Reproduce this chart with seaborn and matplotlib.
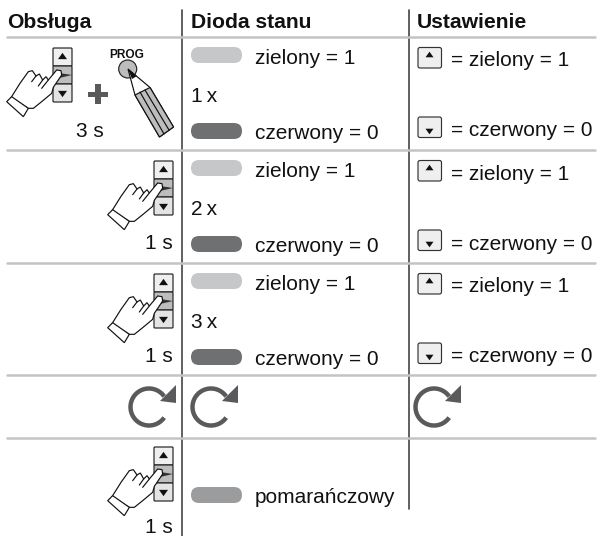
import numpy as np
import matplotlib
matplotlib.use("Agg")
import matplotlib.pyplot as plt
from matplotlib.patches import FancyBboxPatch, Polygon, Circle, Rectangle
import seaborn as sns

headers = ["Obsługa", "Dioda stanu", "Ustawienie"]
counts = ["1\u2009x", "2\u2009x", "3\u2009x"]
durations = ["3 s", "1 s", "1 s", "1 s"]
led_green = "zielony = 1"
led_red = "czerwony = 0"
led_orange = "pomarańczowy"
set_green = "= zielony = 1"
set_red = "= czerwony = 0"

W, H = 597, 536
rule_y = [36.5, 150, 263, 375, 438]
col_x = [182, 409]
row_dy = [0, 113, 226]

sns.set_theme(style="white")
plt.rcParams["font.family"] = ["Liberation Sans", "DejaVu Sans"]

fig = plt.figure(figsize=(W / 100, H / 100), dpi=100)
ax = fig.add_axes([0, 0, 1, 1])
FS = 15.05
DARK = "#5a5a5c"
EDGE = 0.85


def T(x, y, s, **kw):
    ax.text(x, y, s, fontsize=kw.pop("fs", FS), va="baseline", color="#111111", **kw)


def pill(y, c):
    ax.add_patch(FancyBboxPatch((191, y), 51, 16, boxstyle="round,pad=0,rounding_size=8",
                                lw=0, ec="none", fc=c, zorder=3))


def tri(cx, cy, up=True, s=4.5):
    d = -1 if up else 1
    ax.add_patch(Polygon([(cx - s, cy - d * s * 0.7), (cx + s, cy - d * s * 0.7), (cx, cy + d * s * 0.7)],
                         fc="#111111", ec="none", zorder=6))


def keypad(x, y):
    # three stacked keys, finger goes on top afterwards
    for yy, h, c in [(y, 18, "#efefef"), (y + 18, 18, "#bdbdbd"), (y + 36, 18, "#e4e4e4")]:
        ax.add_patch(FancyBboxPatch((x, yy), 19, h, boxstyle="round,pad=0,rounding_size=1",
                                    fc=c, ec="#222222", lw=EDGE, zorder=4))
    tri(x + 9.5, y + 8, True)
    tri(x + 9.5, y + 46, False)
    ax.add_patch(Polygon([(x + 6, y + 25), (x + 19, y + 27), (x + 6, y + 30)], fc="#333333", ec="none", zorder=5))


def hand(dx, dy):
    zoom_pts = [(33, 293), (60, 250), (85, 215), (97, 212), (108, 228), (118, 222), (128, 240), (138, 230),
                (145, 240), (170, 210), (183, 212), (185, 225), (160, 262), (155, 280), (125, 305), (100, 325),
                (85, 325)]
    pts = [(px / 3 + dx, py / 3 + dy) for px, py in zoom_pts]
    ax.add_patch(Polygon(pts, fc="white", ec="#111111", lw=EDGE, zorder=7))
    cuff = [(35, 290), (20, 305), (70, 350), (85, 325)]
    ax.add_patch(Polygon([(px / 3 + dx, py / 3 + dy) for px, py in cuff], fc="white", ec="#111111", lw=EDGE, zorder=7))
    for a, b in [((108, 228), (95, 245)), ((128, 240), (115, 258)), ((145, 240), (125, 265))]:
        ax.plot([a[0] / 3 + dx, b[0] / 3 + dx], [a[1] / 3 + dy, b[1] / 3 + dy], color="#111111", lw=EDGE, zorder=8)


def hand_keypad(dx, dy):
    keypad(53 + dx, 48 + dy)
    hand(dx, dy)


def small_btn(y, up):
    ax.add_patch(FancyBboxPatch((418, y), 23.5, 20.5, boxstyle="round,pad=0,rounding_size=2",
                                fc="#efefef", ec="#333333", lw=EDGE))
    tri(429.5, y + (7 if up else 14.5), up, s=4)


def rotate(cx, cy=407):
    t = np.radians(np.linspace(35, 325, 80))
    ax.plot(cx + 18.5 * np.cos(t), cy - 18.5 * np.sin(t), color=DARK, lw=3.2, solid_capstyle="butt", zorder=3)
    ax.add_patch(Polygon([(cx + 27, 385), (cx + 27, 403), (cx + 11, 401)], fc=DARK, ec="none", zorder=4))


# table grid
for x in col_x:
    sns.lineplot(x=[x, x], y=[10, 536 if x == 182 else 509], ax=ax, color="#444444", lw=1.2,
                 estimator=None, sort=False, legend=False)
for y in rule_y:
    sns.lineplot(x=[7, 595], y=[y, y], ax=ax, color="#c4c4c4", lw=1.8, estimator=None, sort=False,
                 legend=False, zorder=2.5)

T(7, 28, headers[0], fontweight="bold", fs=15.2)
T(191, 28, headers[1], fontweight="bold", fs=15.2)
T(417, 28, headers[2], fontweight="bold", fs=15.2)

# first row, keypad + pencil
hand_keypad(0, 0)
ax.add_patch(Rectangle((88, 91.5), 20, 5.5, fc=DARK, ec="none"))
ax.add_patch(Rectangle((95.2, 84), 5.5, 20, fc=DARK, ec="none"))
T(127, 58, "PROG", fontweight="bold", fs=8.6, ha="center")
ax.add_patch(Circle((127.7, 69), 9, fc="#bdbdbd", ec="#222222", lw=EDGE))
ax.add_patch(Polygon([(128, 69), (150, 87.5), (173.5, 127), (159.5, 137), (135, 95)], fc="white", ec="#111111", lw=EDGE, zorder=5))
ax.add_patch(Polygon([(128, 69), (137, 76), (132, 79)], fc="#111111", ec="none", zorder=6))
ax.add_patch(Polygon([(135, 95), (150, 87.5), (173.5, 127), (159.5, 137)], fc="#bdbdbd", ec="#111111", lw=EDGE, zorder=6))
for a, b in [((140, 92), (164, 134)), ((145, 90), (169, 130))]:
    ax.plot([a[0], b[0]], [a[1], b[1]], color="#111111", lw=EDGE, zorder=7)
T(90, 137, durations[0], ha="center")

# the rows with green / red states
for i, dy in enumerate(row_dy):
    pill(47 + dy, "#c6c7c9")
    pill(123 + dy, "#6f7072")
    T(255, 64 + dy, led_green)
    T(255, 139 + dy, led_red)
    T(191, 102 + dy, counts[i])
    small_btn(47.5 + dy, True)
    small_btn(117 + dy, False)
    T(451, 66.5 + dy, set_green)
    T(451, 136.5 + dy, set_red)
    if i > 0:
        hand_keypad(101, 113 * i)
        T(173, 136 + dy, durations[i], ha="right")

rotate(149)
rotate(211)
rotate(434)

# last row
hand_keypad(101, 399)
T(173, 533, durations[3], ha="right")
pill(487, "#9b9c9e")
T(255, 503, led_orange)

ax.set_xlim(0, W)
ax.set_ylim(H, 0)
ax.axis("off")
fig.savefig("out.png", dpi=100, facecolor="white")
